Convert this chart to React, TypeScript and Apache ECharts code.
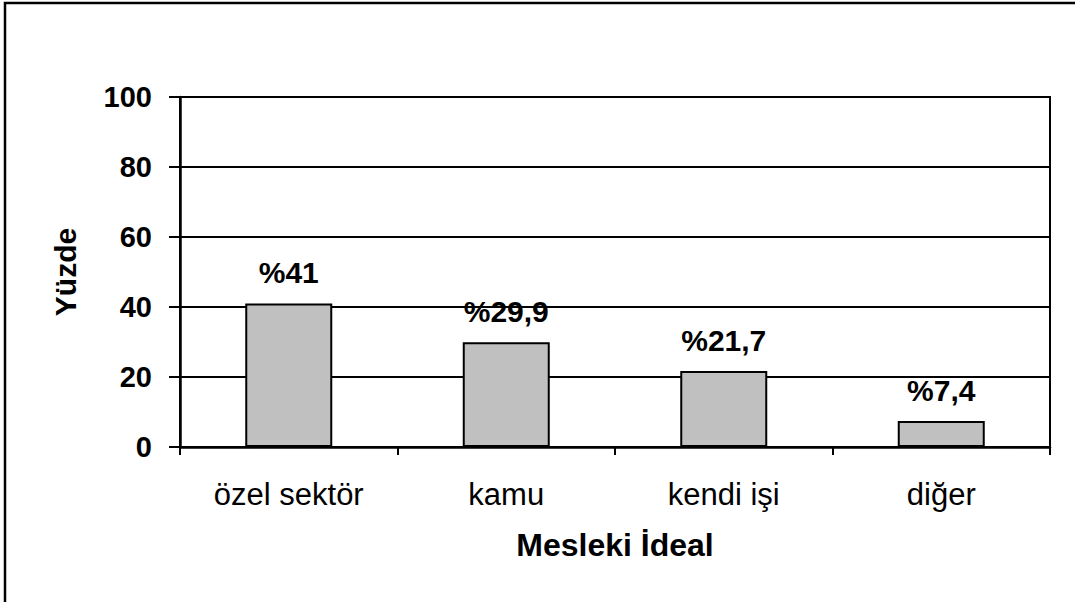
import React, { useEffect, useRef } from "react";
import * as echarts from "echarts";

const categories = ["özel sektör", "kamu", "kendi işi", "diğer"];
const values = [41, 29.9, 21.7, 7.4];
const valueLabels = ["%41", "%29,9", "%21,7", "%7,4"];
const yTicks = [0, 20, 40, 60, 80, 100];

const FONT = "'Liberation Sans', Arial, sans-serif";

export default function App() {
  const ref = useRef<HTMLDivElement>(null);
  useEffect(() => {
    if (!ref.current) return;
    const chart = echarts.init(ref.current, null, { renderer: "svg" });
    chart.setOption({
      animation: false,
      backgroundColor: "#ffffff",
      textStyle: { fontFamily: FONT },
      graphic: [
        {
          type: "rect",
          shape: { x: 5, y: 3, width: 1200, height: 800 },
          style: { fill: "none", stroke: "#000", lineWidth: 2.5 },
          silent: true,
        },
      ],
      grid: {
        left: 180,
        right: 25,
        top: 97,
        bottom: 155,
        show: true,
        borderColor: "#000",
        borderWidth: 2,
        backgroundColor: "transparent",
      },
      xAxis: {
        type: "category",
        data: categories,
        name: "Mesleki İdeal",
        nameLocation: "middle",
        nameGap: 82,
        nameTextStyle: { fontFamily: FONT, fontSize: 32, fontWeight: "bold", color: "#000", verticalAlign: "top" },
        axisLine: { lineStyle: { color: "#000", width: 2.5 } },
        axisTick: { show: true, length: 8, lineStyle: { color: "#000", width: 2 }, alignWithLabel: false },
        axisLabel: { fontFamily: FONT, fontSize: 31, color: "#000", margin: 32 },
        splitLine: { show: false },
      },
      yAxis: {
        type: "value",
        min: yTicks[0],
        max: yTicks[yTicks.length - 1],
        interval: 20,
        name: "Yüzde",
        nameLocation: "middle",
        nameGap: 100,
        nameTextStyle: { fontFamily: FONT, fontSize: 30, fontWeight: "bold", color: "#000" },
        axisLine: { show: true, lineStyle: { color: "#000", width: 2.5 } },
        axisTick: { show: true, length: 11, lineStyle: { color: "#000", width: 2 } },
        axisLabel: { fontFamily: FONT, fontSize: 29, fontWeight: "bold", color: "#000", margin: 28 },
        splitLine: { show: true, lineStyle: { color: "#000", width: 2 } },
      },
      series: [
        {
          type: "bar",
          data: values,
          barWidth: "40%",
          itemStyle: { color: "#c0c0c0", borderColor: "#000", borderWidth: 2 },
          label: {
            show: true,
            position: "top",
            distance: 16,
            fontFamily: FONT,
            fontSize: 30,
            fontWeight: "bold",
            color: "#000",
            formatter: (p: any) => valueLabels[p.dataIndex],
          },
        },
      ],
    });
    return () => chart.dispose();
  }, []);
  return (
    <div
      ref={ref}
      style={{ position: "absolute", left: 0, top: 0, width: 1075, height: 602 }}
    />
  );
}
